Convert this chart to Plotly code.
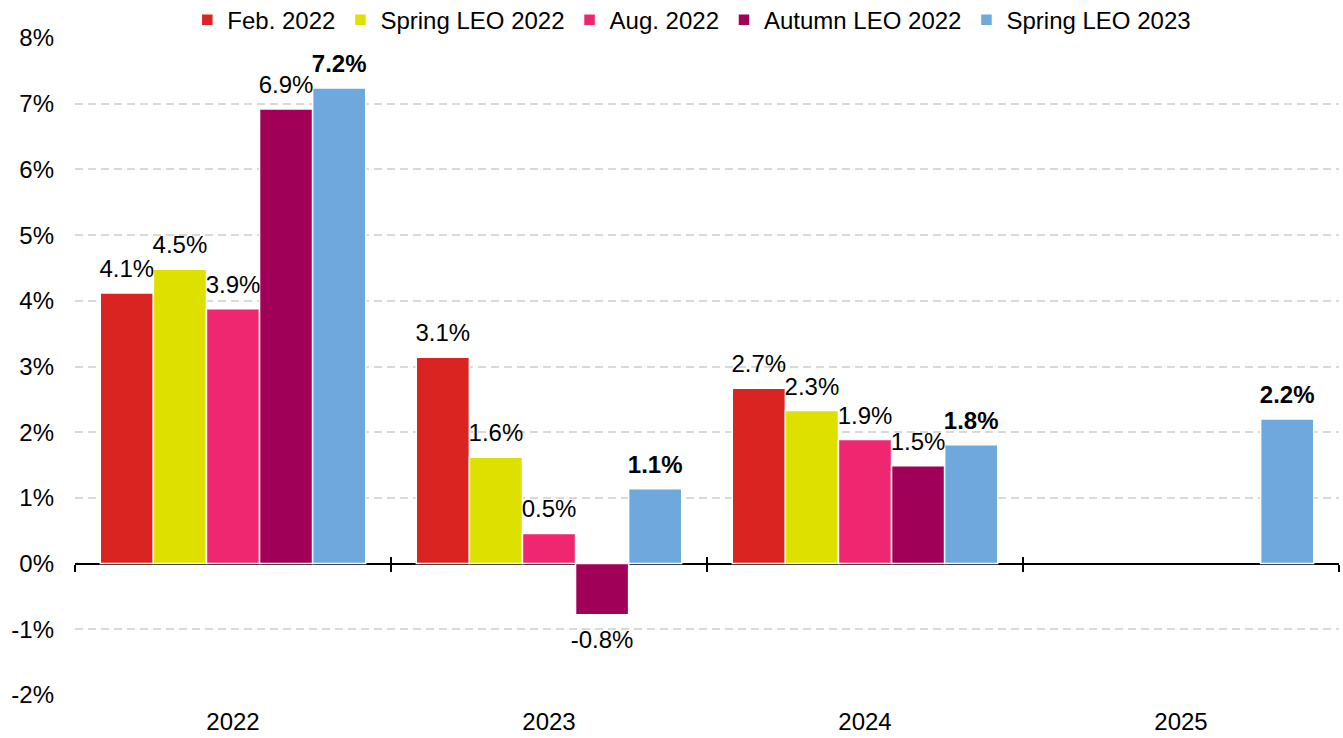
import plotly.graph_objects as go

years = ["2022", "2023", "2024", "2025"]
series_names = ["Feb. 2022", "Spring LEO 2022", "Aug. 2022", "Autumn LEO 2022", "Spring LEO 2023"]
feb_2022 = [4.12, 3.14, 2.67, None]
spring_leo_2022 = [4.48, 1.62, 2.33, None]
aug_2022 = [3.88, 0.46, 1.89, None]
autumn_leo_2022 = [6.92, -0.78, 1.49, None]
spring_leo_2023 = [7.24, 1.14, 1.81, 2.2]
colors = ["#d92422", "#dee000", "#ef2670", "#a00057", "#6fa8dc"]
y_tickvals = [-2, -1, 0, 1, 2, 3, 4, 5, 6, 7, 8]
y_ticktext = ["-2%", "-1%", "0%", "1%", "2%", "3%", "4%", "5%", "6%", "7%", "8%"]

FONT = "Arial, Liberation Sans, sans-serif"
FS = 24
LABEL_PAD = 0.12  # extra space between bar end and its label (style)

fig = go.Figure()
all_series = [feb_2022, spring_leo_2022, aug_2022, autumn_leo_2022, spring_leo_2023]
for i, (name, vals, col) in enumerate(zip(series_names, all_series, colors)):
    fig.add_trace(go.Bar(
        name=name, x=years, y=vals, offsetgroup=str(i),
        marker=dict(color=col, line=dict(color="white", width=1.5)),
        hoverinfo="skip",
    ))
for i, vals in enumerate(all_series):
    bold = i == len(series_names) - 1
    labels = [None if v is None else (f"<b>{v:.1f}%</b>" if bold else f"{v:.1f}%") for v in vals]
    pads = [None if v is None else (LABEL_PAD if v >= 0 else -LABEL_PAD) for v in vals]
    fig.add_trace(go.Bar(
        x=years, y=pads, base=vals, offsetgroup=str(i), showlegend=False,
        marker=dict(color="rgba(0,0,0,0)", line=dict(width=0)),
        text=labels, texttemplate="%{text}", textposition="outside",
        textfont=dict(family=FONT, size=FS, color="black"),
        constraintext="none", cliponaxis=False, hoverinfo="skip",
    ))

# invisible helpers so the zero-line tick axes get drawn
for ax in ["x2", "x3"]:
    fig.add_trace(go.Scatter(x=[None], y=[None], xaxis=ax, showlegend=False,
                             mode="markers", hoverinfo="skip"))

fig.update_layout(
    width=1343, height=738,
    margin=dict(l=75, r=4, t=38, b=43, autoexpand=False),
    plot_bgcolor="white", paper_bgcolor="white",
    barmode="group", bargap=0.16, bargroupgap=0,
    font=dict(family=FONT, size=FS, color="black"),
    showlegend=True,
    legend=dict(orientation="h", x=0.488, xanchor="center", y=0.993, yanchor="bottom",
                font=dict(family=FONT, size=FS, color="black"),
                itemwidth=30, tracegroupgap=0, bgcolor="rgba(0,0,0,0)"),
    xaxis=dict(type="category", categoryorder="array", categoryarray=years,
               showgrid=False, showline=False, ticks="", zeroline=False,
               tickfont=dict(size=FS), automargin=False, ticklabelstandoff=10),
    yaxis=dict(range=[-2, 8], tickvals=y_tickvals, ticktext=y_ticktext,
               showgrid=True, gridcolor="#d9d9d9", gridwidth=2, griddash="8px,5px",
               zeroline=True, zerolinecolor="black", zerolinewidth=2,
               showline=False, ticks="", tickfont=dict(size=FS), automargin=False,
               ticklabelstandoff=20),
    xaxis2=dict(overlaying="x", anchor="free", position=0.2, range=[-0.5, 3.5],
                tickvals=[-0.5, 0.5, 1.5, 2.5, 3.5], ticks="outside", ticklen=7,
                tickwidth=2, tickcolor="black", showticklabels=False,
                showgrid=False, zeroline=False, showline=False, automargin=False),
    xaxis3=dict(overlaying="x", anchor="free", position=0.2, range=[-0.5, 3.5],
                tickvals=[-0.5, 0.5, 1.5, 2.5, 3.5], ticks="inside", ticklen=7,
                tickwidth=2, tickcolor="black", showticklabels=False,
                showgrid=False, zeroline=False, showline=False, automargin=False),
)

fig.write_html("out.html", config={"displayModeBar": False},
               post_script="document.body.style.margin='0';")
